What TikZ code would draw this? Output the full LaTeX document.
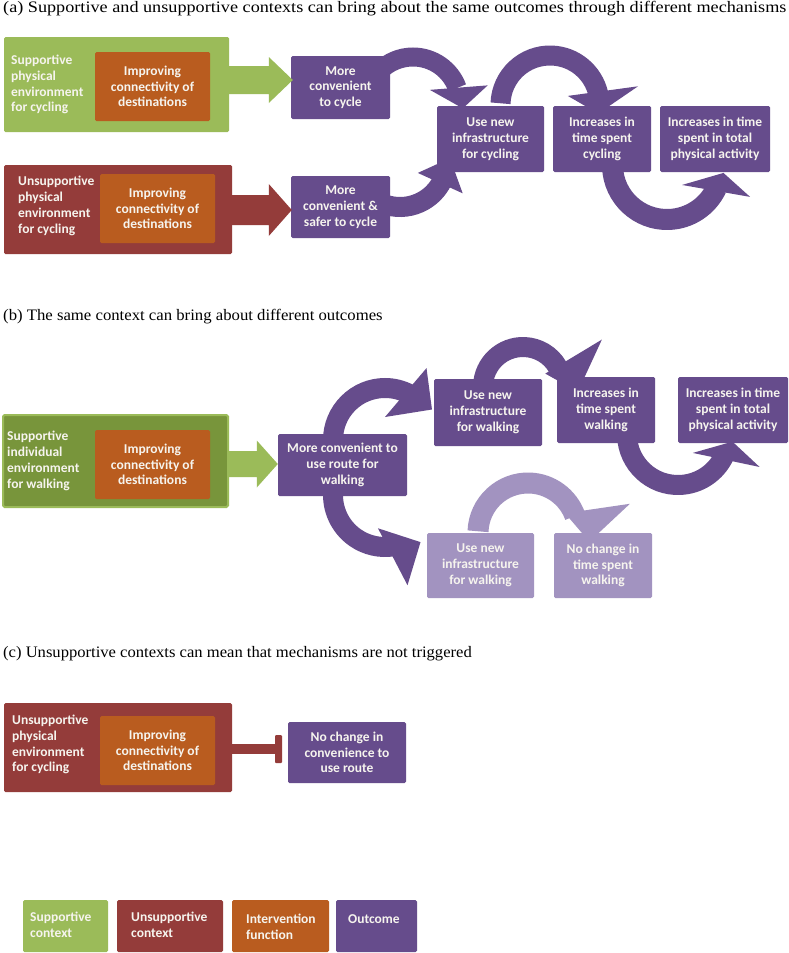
\documentclass[tikz,border=0pt]{standalone}
\usepackage{fontspec}
\setmainfont{Liberation Serif}
\newfontfamily\boxfont{Carlito}
\usetikzlibrary{calc}
\definecolor{cgreen}{HTML}{9BBB59}
\definecolor{cgreenD}{HTML}{78953B}
\definecolor{cred}{HTML}{943C3A}
\definecolor{corange}{HTML}{B95C1F}
\definecolor{cpurple}{HTML}{664C8C}
\definecolor{clight}{HTML}{A293C0}
\definecolor{ctext}{HTML}{F6F4EE}
% circular band: color, width, radius, start, end, center
\newcommand\cband[6]{\draw[#1, line width=#2pt] ([shift={(#4:#3)}]#6) arc[start angle=#4, end angle=#5, radius=#3];}
% head: color, a1, r1, a2, r2, tip angle, tip radius, center
\newcommand\chead[8]{\fill[#1] ([shift={(#2:#3)}]#8) -- ([shift={(#6:#7)}]#8) -- ([shift={(#4:#5)}]#8) -- cycle;}
% block arrow: color, from, to, shaft half, head half, head length
\newcommand\blockarrow[6]{\fill[#1] let \p1=(#2), \p2=(#3) in
  (\x1,\y1+#4) -- (\x2-#6,\y1+#4) -- (\x2-#6,\y1+#5) -- (\x2,\y1) -- (\x2-#6,\y1-#5) -- (\x2-#6,\y1-#4) -- (\x1,\y1-#4) -- cycle;}
\begin{document}
\begin{tikzpicture}[x=1pt,y=-1pt,
  bx/.style={rounded corners=1.5pt, inner sep=0pt, text=ctext,
    font=\boxfont\bfseries\fontsize{13.5}{15.8}\selectfont, align=center},
  pbox/.style={bx, fill=cpurple},
  lbox/.style={bx, fill=clight},
  obox/.style={bx, fill=corange},
  gbox/.style={bx, fill=cgreen},
  rbox/.style={bx, fill=cred},
  ctxt/.style={inner sep=0pt, text=ctext, font=\boxfont\bfseries\fontsize{13.5}{15.8}\selectfont, align=left},
  ttl/.style={inner sep=0pt, anchor=base west, font=\fontsize{16}{19}\selectfont}]
\useasboundingbox (0,0) rectangle (789,953);
\fill[white] (0,0) rectangle (789,953);

% ---------- titles
\node[ttl] (ta) at (3,12.5) {\scalebox{1.137}[1]{(a) Supportive and unsupportive contexts can bring about the same outcomes through different mechanisms}};
\node[ttl] (tb) at (3,320.5) {\scalebox{1.045}[1]{(b) The same context can bring about different outcomes}};
\node[ttl] (tc) at (3,657) {\scalebox{1.037}[1]{(c) Unsupportive contexts can mean that mechanisms are not triggered}};

% ---------- arc centres
\coordinate (c1) at (413,104);
\coordinate (c2) at (400,160);
\coordinate (c3) at (550,105);
\coordinate (c4) at (667,165);
\coordinate (d1) at (385,440);
\coordinate (d2) at (523,387);
\coordinate (d3) at (678,434);
\coordinate (d4) at (385,495);
\coordinate (d5) at (528,533);

% ---------- curved arrows (a)
\cband{cpurple}{19}{47}{180}{340}{c1}
\chead{cpurple}{320}{22}{346}{77}{365}{50}{c1}
\cband{cpurple}{20}{47}{150}{28}{c2}
\chead{cpurple}{36}{22}{28}{71}{358}{50}{c2}
\cband{cpurple}{20}{49.5}{182}{347}{c3}
\chead{cpurple}{333}{20}{348}{90}{370}{49}{c3}
\cband{cpurple}{21}{54.5}{178}{25}{c4}
\chead{cpurple}{53}{25}{21}{89}{8}{57}{c4}

% ---------- curved arrows (b)
\cband{cpurple}{20}{52}{180}{298}{d1}
\chead{cpurple}{300}{83}{270}{23}{327}{56}{d1}
\cband{cpurple}{20}{40}{182}{330}{d2}
\chead{cpurple}{329}{26}{329}{92}{5}{55}{d2}
\cband{cpurple}{20}{51}{178}{25}{d3}
\chead{cpurple}{52}{24}{22}{88}{8}{55}{d3}
\cband{cpurple}{20}{52}{185}{80}{d4}
\chead{cpurple}{102}{34}{76}{93}{53}{59}{d4}
\cband{clight}{21}{50}{182}{340}{d5}
\chead{clight}{332}{42}{344}{106}{8}{62}{d5}

% ---------- (a) boxes
\node[gbox, minimum width=225pt, minimum height=95pt] (ga) at (116.5,84.5) {};
\node[ctxt, anchor=west] (gat) at (11,84.5) {Supportive\\physical\\environment\\for cycling};
\node[obox, minimum width=115pt, minimum height=69pt] (oa1) at (152.5,86.5) {Improving\\connectivity of\\destinations};
\node[rbox, minimum width=228pt, minimum height=89pt] (ra) at (118,209.5) {};
\node[ctxt, anchor=west] (rat) at (18,206) {Unsupportive\\physical\\environment\\for cycling};
\node[obox, minimum width=115pt, minimum height=69pt] (oa2) at (157.5,208.5) {Improving\\connectivity of\\destinations};

\node[pbox, minimum width=99pt, minimum height=63pt] (pa1) at (340.5,87.5) {More\\convenient\\to cycle};
\node[pbox, minimum width=99pt, minimum height=62pt] (pa2) at (340.5,207) {More\\convenient \&\\safer to cycle};
\node[pbox, minimum width=107pt, minimum height=66pt] (pa3) at (490.5,139) {Use new\\infrastructure\\for cycling};
\node[pbox, minimum width=98pt, minimum height=66pt] (pa4) at (602,139) {Increases in\\time spent\\cycling};
\node[pbox, minimum width=110pt, minimum height=66pt] (pa5) at (715,139) {Increases in time\\spent in total\\physical activity};

\blockarrow{cgreen}{[yshift=4.5pt]ga.east}{[xshift=2pt]pa1.west}{14pt}{23pt}{24pt}
\blockarrow{cred}{[yshift=-0.5pt]ra.east}{[xshift=1pt]pa2.west}{15pt}{26pt}{23pt}

% ---------- (b) boxes
\node[bx, fill=cgreenD, draw=cgreen, line width=2pt, minimum width=225pt, minimum height=92pt] (gb) at (115.5,461) {};
\node[ctxt, anchor=west] (gbt) at (7,461) {Supportive\\individual\\environment\\for walking};
\node[obox, minimum width=115pt, minimum height=69pt] (ob) at (152.5,464.5) {Improving\\connectivity of\\destinations};
\node[pbox, minimum width=129pt, minimum height=62pt] (pb1) at (342.5,465) {More convenient to\\use route for\\walking};
\node[pbox, minimum width=108pt, minimum height=67pt] (pb2) at (488,412.5) {Use new\\infrastructure\\for walking};
\node[pbox, minimum width=98pt, minimum height=66pt] (pb3) at (606,410) {Increases in\\time spent\\walking};
\node[pbox, minimum width=110pt, minimum height=66pt] (pb4) at (733,410) {Increases in time\\spent in total\\physical activity};
\node[lbox, minimum width=107pt, minimum height=65pt] (lb1) at (480.5,565.5) {Use new\\infrastructure\\for walking};
\node[lbox, minimum width=98pt, minimum height=65pt] (lb2) at (603,565.5) {No change in\\time spent\\walking};

\blockarrow{cgreen}{[yshift=-3pt]gb.east}{pb1.west}{13pt}{23.5pt}{21pt}

% ---------- (c)
\node[rbox, minimum width=228pt, minimum height=89pt] (rc) at (118,747.5) {};
\node[ctxt, anchor=west] (rct) at (12,744.5) {Unsupportive\\physical\\environment\\for cycling};
\node[obox, minimum width=115pt, minimum height=69pt] (oc) at (157.5,750.5) {Improving\\connectivity of\\destinations};
\node[pbox, minimum width=118pt, minimum height=61pt] (pc) at (347,752.5) {No change in\\convenience to\\use route};
\coordinate (bar) at (278.5,749);
\draw[cred, line width=10pt] (rc.east |- bar) -- (bar);
\fill[cred, rounded corners=1pt] ([shift={(-3.5,-14)}]bar) rectangle ([shift={(3.5,14)}]bar);

% ---------- legend
\node[gbox, minimum width=85pt, minimum height=52pt] (lg1) at (65.5,926) {};
\node[rbox, minimum width=106pt, minimum height=52pt] (lg2) at (170,926) {};
\node[obox, minimum width=97pt, minimum height=52pt] (lg3) at (280.5,926) {};
\node[pbox, minimum width=81pt, minimum height=52pt] (lg4) at (376.5,926) {};
\node[ctxt, anchor=north west] (lg1t) at (30,912) {Supportive\\context};
\node[ctxt, anchor=north west] (lg2t) at (131,912) {Unsupportive\\context};
\node[ctxt, anchor=north west] (lg3t) at (246,914) {Intervention\\function};
\node[ctxt, anchor=north west] (lg4t) at (348,914) {Outcome};
\end{tikzpicture}
\end{document}
